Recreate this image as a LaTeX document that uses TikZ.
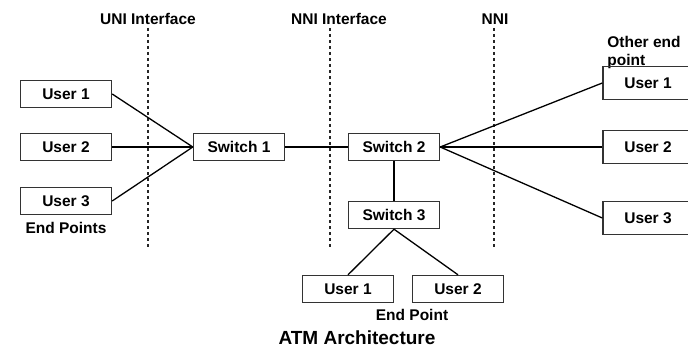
\documentclass[tikz,border=0pt]{standalone}
\usepackage{fontspec}
\setmainfont{Liberation Sans}
\usepackage{tikz}
\usetikzlibrary{positioning,calc}

\begin{document}
\begin{tikzpicture}[x=1pt, y=-1pt,
                    box/.style={rectangle, draw=black!80, line width=1.4pt, minimum width=91pt, minimum height=27pt, inner sep=0pt, font=\fontsize{15.5}{18}\selectfont\bfseries},
                    bigbox/.style={box, minimum width=90pt, minimum height=33pt},
                    lbl/.style={inner sep=0pt, font=\fontsize{15.5}{18}\selectfont\bfseries},
                    link/.style={line width=1.3pt},
                    border/.style={dash pattern=on 3pt off 3pt, line width=1.8pt, black!85}]
                    \useasboundingbox (0,0) rectangle (688,350);

                    % Interfaces
                    \node[lbl] (uni) at (148,19) {UNI Interface};
                    \node[lbl] (nnii) at (339,19) {NNI Interface};
                    \node[lbl] (nni) at (495,19) {NNI};
                    \coordinate (uniTop) at (148,28);   \coordinate (uniBot) at (148,248);
                    \coordinate (nniiTop) at (330,28);  \coordinate (nniiBot) at (330,248);
                    \coordinate (nniTop) at (494,28);   \coordinate (nniBot) at (494,248);
                    \draw[border] (uniTop) -- (uniBot);
                    \draw[border] (nniiTop) -- (nniiBot);
                    \draw[border] (nniTop) -- (nniBot);

                    % End points (left)
                    \node[box] (u1) at (66,94) {User 1};
                    \node[box] (u2) at (66,147) {User 2};
                    \node[box] (u3) at (66,201) {User 3};
                    \node[lbl] (ep) at (66,228) {End Points};

                    % Switches
                    \node[box] (s1) at (239,147) {Switch 1};
                    \node[box] (s2) at (394,147) {Switch 2};
                    \node[box] (s3) at (394,215) {Switch 3};

                    % End point (bottom)
                    \node[box] (b1) at (348,289) {User 1};
                    \node[box] (b2) at (458,289) {User 2};
                    \node[lbl] (bp) at (412,315) {End Point};

                    % Other end point (right)
                    \node[lbl, align=left] (oep) at (644,52) {Other end\\point};
                    \node[bigbox] (r1) at (648,83) {User 1};
                    \node[bigbox] (r2) at (648,147) {User 2};
                    \node[bigbox] (r3) at (648,218) {User 3};

                    \node[inner sep=0pt, font=\fontsize{19}{22}\selectfont\bfseries] (title) at (357,338) {ATM Architecture};

                    % Links
                    \draw[link] (u1.east) -- (s1.west);
                    \draw[link] (u2.east) -- (s1.west);
                    \draw[link] (u3.east) -- (s1.west);
                    \draw[link] (s1) -- (s2);
                    \draw[link] (s2.east) -- (r1.west);
                    \draw[link] (s2.east) -- (r2.west);
                    \draw[link] (s2.east) -- (r3.west);
                    \draw[link] (s2) -- (s3);
                    \draw[link] (s3.south) -- (b1.north);
                    \draw[link] (s3.south) -- (b2.north);
                \end{tikzpicture}
\end{document}
